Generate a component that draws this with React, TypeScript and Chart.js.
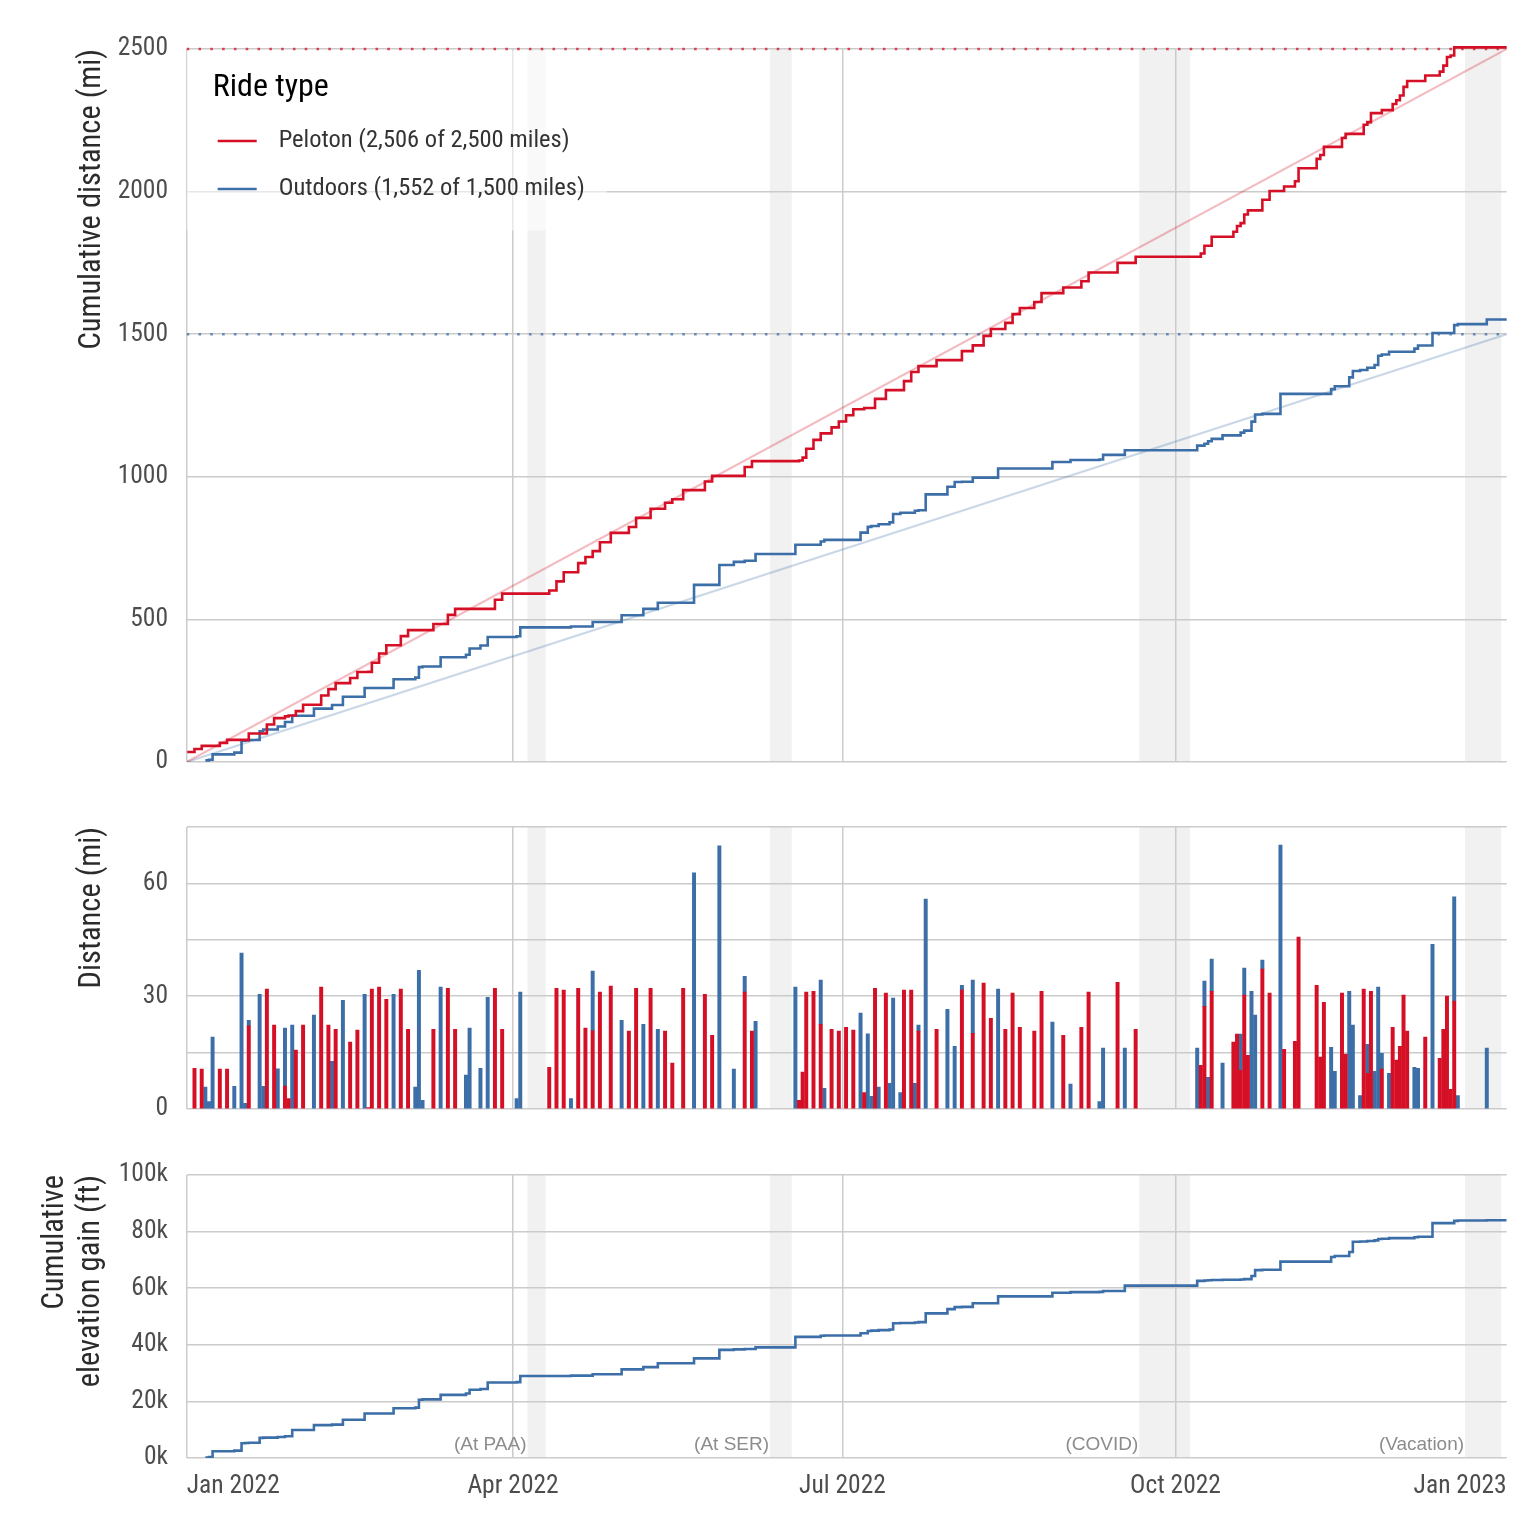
import { useEffect, useRef } from "react";
import { Chart, ChartConfiguration, Plugin } from "chart.js/auto";

// days are counted from 1 Jan 2022 (day 0)
const pelotonDays = [
  0, 2, 4, 9, 11, 17, 22, 24, 27, 28, 30, 32, 37, 39, 41, 45, 47, 50, 51, 53, 55, 59, 61, 68, 72, 74, 85, 87,
  100, 102, 104, 108, 110, 112, 114, 117, 122, 124, 128, 132, 134, 137, 143, 145, 154, 156, 169, 170, 171, 173, 175, 178, 180, 182,
  184, 187, 190, 193, 198, 200, 202, 207, 214, 217, 220, 222, 226, 228, 230, 234, 236, 242, 247, 249, 257, 262,
  280, 281, 283, 289, 290, 291, 292, 293, 297, 299, 303, 306, 307, 312, 313, 314, 319, 320, 325, 326, 327, 330, 333, 334, 335, 336, 337, 342, 346, 347, 348, 349, 350,
];
const pelotonMiles = [
  35, 10.8, 10.6, 10.6, 10.6, 22.1, 31.9, 22.3, 6.1, 2.8, 15.7, 22.3, 32.4, 22.3, 21.2, 17.8, 21.0, 0.4, 31.9, 32.4, 29.2, 31.9, 21.2, 21.2, 32.1, 21.2, 32.1, 21.2,
  11.1, 32.1, 31.6, 32.1, 21.5, 20.8, 31.1, 32.7, 20.7, 32.1, 32.1, 20.7, 12.2, 32.1, 30.5, 19.6, 31.1, 20.7, 2.3, 9.8, 31.1, 31.3, 22.5, 21.2, 20.7, 21.7,
  21.0, 4.4, 32.1, 30.8, 31.6, 31.6, 20.7, 21.2, 31.6, 20.1, 33.5, 24.1, 21.2, 30.8, 21.7, 20.7, 31.3, 19.6, 21.7, 31.1, 33.7, 21.2,
  11.6, 27.3, 31.3, 17.8, 19.9, 10.3, 30.3, 14.3, 37.2, 30.8, 15.9, 18.0, 45.7, 32.9, 13.8, 28.4, 30.8, 14.6, 31.9, 9.5, 31.3, 10.6, 21.7, 13.0, 16.7, 30.3, 20.7, 19.1, 13.5, 21.2, 30.0, 5.2, 28.7,
];

const outdoorDays = [
  5, 6, 7, 13, 15, 16, 17, 20, 21, 25, 27, 29, 35, 40, 43, 49, 57, 63, 64, 65, 70, 77, 78, 81, 83, 91, 92,
  106, 112, 120, 126, 130, 140, 147, 151, 154, 157, 168, 175, 176,
  186, 188, 189, 191, 194, 195, 197, 201, 202, 204, 210, 212, 214, 217, 224, 239, 244, 252, 253, 259,
  279, 281, 282, 283, 286, 291, 292, 294, 295, 297, 302, 316, 317, 321, 322, 324, 326, 328, 329, 330, 332, 339, 340, 344, 350, 351, 359,
];
const outdoorMiles = [
  5.8, 2.0, 19.1, 6.0, 41.5, 1.5, 1.5, 30.5, 6.0, 10.7, 15.4, 22.3, 25.0, 12.7, 28.9, 30.5, 30.5, 5.8, 36.9, 2.3, 32.4, 9.0, 21.5, 10.8, 29.7, 2.8, 31.1,
  2.8, 15.9, 23.6, 22.5, 21.2, 62.8, 70.0, 10.6, 4.2, 23.3, 32.4, 11.8, 5.5,
  25.5, 20.0, 3.4, 5.8, 6.8, 29.5, 4.4, 6.8, 1.6, 55.8, 26.5, 16.7, 1.3, 14.2, 31.9, 23.1, 6.6, 2.0, 16.2, 16.2,
  16.2, 6.7, 8.4, 8.6, 12.2, 9.6, 7.2, 31.3, 25.0, 2.4, 70.2, 16.4, 10.0, 31.3, 22.3, 3.6, 7.7, 10.0, 32.4, 4.2, 9.5, 11.1, 10.8, 43.8, 27.7, 3.6, 16.2,
];
const outdoorElevationFt = [
  200, 100, 2100, 200, 2600, 100, 100, 1700, 100, 200, 300, 2200, 1700, 200, 1700, 2200, 1900, 200, 2800, 100, 1600, 500, 1300, 300, 2300, 100, 2200,
  100, 500, 1700, 800, 1400, 1700, 3000, 200, 100, 600, 3700, 400, 100,
  800, 800, 100, 200, 200, 2200, 100, 200, 100, 3100, 1500, 700, 100, 1300, 2400, 1300, 200, 100, 300, 1900,
  1700, 100, 100, 100, 100, 100, 100, 1100, 2100, 100, 2900, 1600, 400, 1400, 3600, 100, 200, 200, 500, 100, 200, 300, 200, 4800, 800, 100, 100,
];

const pelotonGoal = 2500;
const outdoorGoal = 1500;

const xTickDays = [0, 90, 181, 273, 365];
const xTickLabels = ["Jan 2022", "Apr 2022", "Jul 2022", "Oct 2022", "Jan 2023"];

const awayStart = [94, 161, 263, 353];
const awayEnd = [99, 167, 277, 363];
const awayLabels = ["(At PAA)", "(At SER)", "(COVID)", "(Vacation)"];

const legendTitle = "Ride type";
const legendLabels = ["Peloton (2,506 of 2,500 miles)", "Outdoors (1,552 of 1,500 miles)"];

const X_MIN = -0.15;
const X_MAX = 364.5;
const AXIS_WIDTH = 186.7;
const RIGHT_PAD = 33.3;
const RED = "#d50f25";
const BLUE = "#3c6ea7";
const GRID = "#cbcbcb";
const NARROW = '"Liberation Sans Narrow", "Roboto Condensed", Roboto, sans-serif';
const TICK_SIZE = 25.5;
const TITLE_SIZE = 30.5;

function runningTotal(days: number[], values: number[]) {
  let sum = 0;
  const pts = days.map((d, i) => {
    sum += values[i];
    return { x: d, y: sum };
  });
  pts.push({ x: X_MAX, y: sum });
  return pts;
}

// ggplot drops bars that stick out past the date limits
function barsOf(days: number[], values: number[]) {
  return days
    .map((d, i) => ({ x: d, y: values[i] }))
    .filter((p) => p.x >= 0.5 && p.x <= X_MAX - 0.5);
}

const xAxis: any = {
  type: "linear",
  min: X_MIN,
  max: X_MAX,
  offset: false,
  afterBuildTicks: (s: any) => {
    s.ticks = xTickDays.filter((d) => d <= X_MAX).map((v) => ({ value: v }));
  },
  ticks: { display: false },
  grid: { color: GRID, lineWidth: 1.5, drawTicks: false, offset: false },
  border: { display: false },
};

function yAxis(max: number, step: number, title: string | string[], titlePad: number, fmt: (v: number) => string): any {
  return {
    min: 0,
    max,
    afterFit: (s: any) => {
      s.width = AXIS_WIDTH;
    },
    ticks: {
      stepSize: step,
      padding: 18.7,
      color: "#4d4d4d",
      font: { family: NARROW, size: TICK_SIZE },
      callback: (v: any) => fmt(Number(v)),
    },
    grid: { color: GRID, lineWidth: 1.5, drawTicks: false },
    border: { display: false },
    title: {
      display: true,
      text: title,
      align: "end",
      color: "#2b2b2b",
      font: { family: NARROW, size: TITLE_SIZE, lineHeight: 1.2 },
      padding: { top: titlePad, bottom: 0 },
    },
  };
}

const shadePlugin: Plugin = {
  id: "shade",
  beforeDraw(chart) {
    const { ctx, chartArea: a, scales } = chart;
    ctx.save();
    ctx.fillStyle = "#f1f1f1";
    awayStart.forEach((s, i) => {
      const x0 = scales.x.getPixelForValue(s);
      const x1 = scales.x.getPixelForValue(awayEnd[i]);
      ctx.fillRect(x0, a.top, x1 - x0, a.bottom - a.top);
    });
    ctx.restore();
  },
};

const legendPlugin: Plugin = {
  id: "rideLegend",
  beforeDatasetsDraw(chart) {
    const { ctx, chartArea: a } = chart;
    ctx.save();
    ctx.fillStyle = "rgba(255,255,255,0.55)";
    ctx.fillRect(a.left, a.top + 1.5, 420, 180);
    ctx.restore();
  },
  afterDatasetsDraw(chart) {
    const { ctx, chartArea: a } = chart;
    ctx.save();
    ctx.textBaseline = "middle";
    ctx.textAlign = "left";
    ctx.fillStyle = "#000";
    ctx.font = `32px ${NARROW}`;
    ctx.fillText(legendTitle, a.left + 26, a.top + 39);
    [RED, BLUE].forEach((c, i) => {
      const y = a.top + 92 + i * 48;
      ctx.strokeStyle = c;
      ctx.lineWidth = 2.6;
      ctx.beginPath();
      ctx.moveTo(a.left + 31, y);
      ctx.lineTo(a.left + 70, y);
      ctx.stroke();
      ctx.fillStyle = "#333";
      ctx.font = `24.5px ${NARROW}`;
      ctx.fillText(legendLabels[i], a.left + 92, y);
    });
    ctx.restore();
  },
};

const dateLabelPlugin: Plugin = {
  id: "dateLabels",
  afterDraw(chart) {
    const { ctx, chartArea: a, scales } = chart;
    ctx.save();
    ctx.textBaseline = "middle";
    ctx.fillStyle = "#4d4d4d";
    ctx.font = `${TICK_SIZE}px ${NARROW}`;
    xTickDays.forEach((d, i) => {
      let x = scales.x.getPixelForValue(d);
      if (i === 0) {
        ctx.textAlign = "left";
        x = a.left;
      } else if (i === xTickDays.length - 1) {
        ctx.textAlign = "right";
        x = a.right;
      } else {
        ctx.textAlign = "center";
      }
      ctx.fillText(xTickLabels[i], x, a.bottom + 29);
    });
    ctx.fillStyle = "#8c8c8c";
    ctx.font = '19px "Liberation Sans", Arial, sans-serif';
    ctx.textAlign = "right";
    awayStart.forEach((s, i) => {
      ctx.fillText(awayLabels[i], scales.x.getPixelForValue(s) - 1, a.bottom - 13);
    });
    ctx.restore();
  },
};

// the y tick padding makes chart.js keep at least ~34px above and below the plot
const baseOptions = (pad: { top: number; bottom: number }): any => ({
  animation: false,
  responsive: false,
  events: [],
  layout: { padding: { top: pad.top, bottom: pad.bottom, left: 0, right: RIGHT_PAD } },
  plugins: { legend: { display: false }, tooltip: { enabled: false } },
});

const flatLine = (y: number) => [
  { x: X_MIN, y },
  { x: X_MAX, y },
];
const goalLine = (y: number) => [
  { x: X_MIN, y: 0 },
  { x: X_MAX, y },
];

function distanceConfig(): ChartConfiguration {
  const line = { pointRadius: 0, fill: false };
  return {
    type: "line",
    data: {
      datasets: [
        { ...line, data: runningTotal(pelotonDays, pelotonMiles), borderColor: RED, borderWidth: 2.6, stepped: "before", clip: 8 },
        { ...line, data: runningTotal(outdoorDays, outdoorMiles), borderColor: BLUE, borderWidth: 2.6, stepped: "before", clip: 8 },
        { ...line, data: flatLine(pelotonGoal), borderColor: "rgba(213,15,37,0.75)", borderWidth: 2.6, borderDash: [2.6, 9.2], clip: 4 },
        { ...line, data: flatLine(outdoorGoal), borderColor: "rgba(60,110,167,0.75)", borderWidth: 2.6, borderDash: [2.6, 9.2] },
        { ...line, data: goalLine(pelotonGoal), borderColor: "rgba(213,15,37,0.28)", borderWidth: 2.2 },
        { ...line, data: goalLine(outdoorGoal), borderColor: "rgba(60,110,167,0.28)", borderWidth: 2.2 },
      ] as any,
    },
    options: {
      ...baseOptions({ top: 49, bottom: 34 }),
      scales: {
        x: xAxis,
        y: yAxis(2500, 500, "Cumulative distance (mi)", 73.7, (v) => String(v)),
      },
    },
    plugins: [shadePlugin, legendPlugin],
  };
}

function dailyConfig(): ChartConfiguration {
  const bar = { barThickness: 3.3, borderWidth: 0 };
  return {
    type: "bar",
    data: {
      datasets: [
        { ...bar, data: barsOf(pelotonDays, pelotonMiles), backgroundColor: RED },
        { ...bar, data: barsOf(outdoorDays, outdoorMiles), backgroundColor: BLUE },
      ] as any,
    },
    options: {
      ...baseOptions({ top: 37, bottom: 34 }),
      scales: {
        x: { ...xAxis, stacked: true },
        y: { ...yAxis(75, 15, "Distance (mi)", 73.7, (v) => (v % 30 === 0 ? String(v) : "")), stacked: true },
      },
    },
    plugins: [shadePlugin],
  };
}

function elevationConfig(): ChartConfiguration {
  return {
    type: "line",
    data: {
      datasets: [
        {
          data: runningTotal(outdoorDays, outdoorElevationFt),
          borderColor: BLUE,
          borderWidth: 2.6,
          stepped: "before",
          pointRadius: 0,
          fill: false,
        },
      ] as any,
    },
    options: {
      ...baseOptions({ top: 35, bottom: 82 }),
      scales: {
        x: xAxis,
        y: yAxis(100000, 20000, ["Cumulative", "elevation gain (ft)"], 36.7, (v) => `${v / 1000}k`),
      },
    },
    plugins: [shadePlugin, dateLabelPlugin],
  };
}

function Panel({ top, height, config }: { top: number; height: number; config: () => ChartConfiguration }) {
  const canvasRef = useRef<HTMLCanvasElement>(null);

  useEffect(() => {
    if (!canvasRef.current) return;
    const chart = new Chart(canvasRef.current, config());
    return () => {
      chart.destroy();
    };
  }, [config]);

  return (
    <canvas
      ref={canvasRef}
      width={1540}
      height={height}
      style={{ position: "absolute", left: 0, top, display: "block" }}
    />
  );
}

export default function App() {
  return (
    <div style={{ position: "absolute", left: 0, top: 0, width: 1540, height: 1540, background: "#fff" }}>
      <Panel top={0} height={796} config={distanceConfig} />
      <Panel top={790} height={353} config={dailyConfig} />
      <Panel top={1140} height={400} config={elevationConfig} />
    </div>
  );
}
